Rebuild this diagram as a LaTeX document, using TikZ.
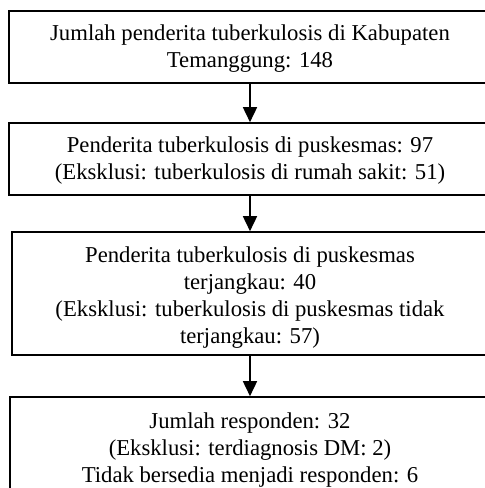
\documentclass[tikz,border=0pt]{standalone}
\usepackage{fontspec}
\setmainfont{Liberation Serif}
\usetikzlibrary{arrows.meta}
\begin{document}
\begin{tikzpicture}[x=1pt,y=-1pt,
  flowbox/.style={draw=black, line width=1.6pt, inner sep=0pt},
  flowtext/.style={inner sep=0pt, align=center, font=\fontsize{22.7}{27}\selectfont},
  flowarrow/.style={line width=1.6pt, -{Triangle[length=15pt,width=14pt]}}]
\useasboundingbox (0,0) rectangle (485,488);
\clip (0,0) rectangle (485,488);
\node[flowbox, minimum width=482pt, minimum height=72pt] (b1) at (250,47) {};
\node[flowbox, minimum width=482pt, minimum height=72pt] (b2) at (250,159) {};
\node[flowbox, minimum width=476pt, minimum height=123pt] (b3) at (250,293.5) {};
\node[flowbox, minimum width=480pt, minimum height=109pt] (b4) at (250,451.5) {};
\node[flowtext] (t1) at ([yshift=-2pt]b1.center)
  {Jumlah penderita tuberkulosis di Kabupaten\\Temanggung: 148};
\node[flowtext] (t2) at ([yshift=-2pt]b2.center)
  {Penderita tuberkulosis di puskesmas: 97\\(Eksklusi: tuberkulosis di rumah sakit: 51)};
\node[flowtext] (t3) at ([yshift=-4pt]b3.center)
  {Penderita tuberkulosis di puskesmas\\terjangkau: 40\\(Eksklusi: tuberkulosis di puskesmas tidak\\terjangkau: 57)};
\node[flowtext] (t4) at ([yshift=1pt]b4.center)
  {Jumlah responden: 32\\(Eksklusi: terdiagnosis DM: 2)\\Tidak bersedia menjadi responden: 6};
\draw[flowarrow] (b1.south) -- (b2.north);
\draw[flowarrow] (b2.south) -- (b3.north);
\draw[flowarrow] (b3.south) -- (b4.north);
\end{tikzpicture}
\end{document}
